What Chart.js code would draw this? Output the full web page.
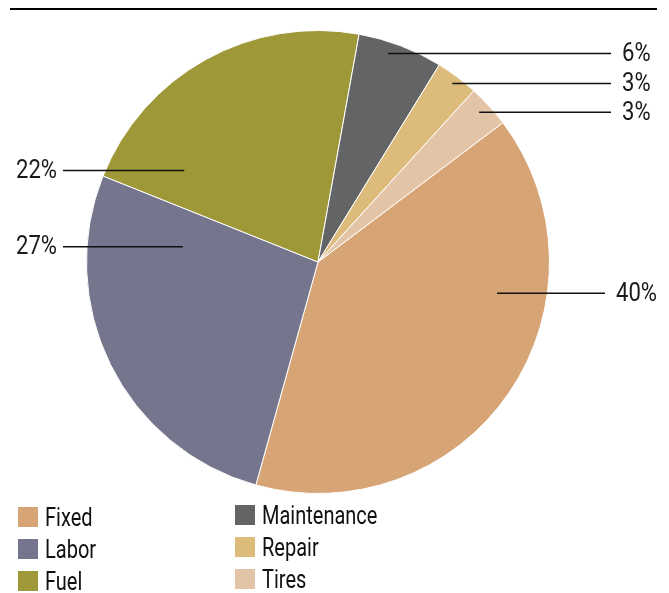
<!DOCTYPE html>
<html>
<head>
<meta charset="utf-8">
<script src="https://cdn.jsdelivr.net/npm/chart.js@4/dist/chart.umd.min.js"></script>
<style>
  html, body { margin: 0; padding: 0; background: #fff; }
  #wrap { position: relative; width: 669px; height: 593px; }
</style>
</head>
<body>
<div id="wrap"><canvas id="costChart" width="669" height="593"></canvas></div>
<script>
// Cost breakdown
const categories = ["Fixed", "Labor", "Fuel", "Maintenance", "Repair", "Tires"];
const shares = [40, 27, 22, 6, 3, 3];
const shareLabels = ["40%", "27%", "22%", "6%", "3%", "3%"];
const sliceColors = ["#d7a476", "#75758d", "#9e9838", "#636466", "#dcbb7b", "#e3c4a7"];

// where each leader line starts: [fraction along slice, fraction of radius, side, line end x]
const leaderSpots = [
    [0.329, 0.785, "right", 605],
    [0.84, 0.588, "left", 63],
    [0.16, 0.70, "left", 63],
    [0.39, 0.95, "right", 611],
    [0.5, 0.965, "right", 611],
    [0.45, 0.95, "right", 611]
];

const LEGEND_FONT = '25px Roboto, "Liberation Sans", sans-serif';
const PCT_FONT = '26px Roboto, "Liberation Sans", sans-serif';

// draw text squeezed horizontally around its anchor (condensed look)
function narrowText(ctx, text, x, y, align, squeeze) {
    ctx.save();
    ctx.translate(x, y);
    ctx.scale(squeeze, 1);
    ctx.textAlign = align;
    ctx.fillText(text, 0, 0);
    ctx.restore();
}

const extrasPlugin = {
    id: "extras",
    afterDraw(chart) {
        const ctx = chart.ctx;
        const arcs = chart.getDatasetMeta(0).data;
        ctx.save();

        // rule across the top
        ctx.strokeStyle = "#000";
        ctx.lineWidth = 2;
        ctx.beginPath();
        ctx.moveTo(10, 9);
        ctx.lineTo(657, 9);
        ctx.stroke();

        // leader lines + percentages
        ctx.font = PCT_FONT;
        ctx.fillStyle = "#1a1a1a";
        ctx.textBaseline = "middle";
        arcs.forEach((arc, i) => {
            const [f, rf, side, endX] = leaderSpots[i];
            const a = arc.startAngle + f * (arc.endAngle - arc.startAngle);
            const px = arc.x + Math.cos(a) * arc.outerRadius * rf;
            const py = arc.y + Math.sin(a) * arc.outerRadius * rf;
            ctx.strokeStyle = "#111";
            ctx.lineWidth = 1.5;
            ctx.beginPath();
            ctx.moveTo(px, py);
            ctx.lineTo(endX, py);
            ctx.stroke();
            if (side === "right") {
                narrowText(ctx, shareLabels[i], endX + 11, py + 1, "left", 0.85);
            } else {
                narrowText(ctx, shareLabels[i], endX - 6, py + 1, "right", 0.85);
            }
        });

        // legend, two columns of three
        ctx.font = LEGEND_FONT;
        ctx.textBaseline = "alphabetic";
        categories.forEach((name, i) => {
            const col = Math.floor(i / 3);
            const row = i % 3;
            const x = col === 0 ? 18 : 235;
            const top = (col === 0 ? 507 : 505) + row * 32;
            ctx.fillStyle = sliceColors[i];
            ctx.fillRect(x, top, 20, 20);
            ctx.fillStyle = "#111";
            narrowText(ctx, name, x + 27, top + 19, "left", 0.8);
        });
        ctx.restore();
    }
};

new Chart(document.getElementById("costChart"), {
    type: "pie",
    data: {
        labels: categories,
        datasets: [{
            data: shares,
            backgroundColor: sliceColors,
            borderColor: "#ffffff",
            borderWidth: 1
        }]
    },
    options: {
        responsive: false,
        animation: false,
        rotation: 53,
        layout: { padding: { left: 86, right: 119, top: 30, bottom: 99 } },
        plugins: {
            legend: { display: false },
            tooltip: { enabled: false }
        }
    },
    plugins: [extrasPlugin]
});
</script>
</body>
</html>
